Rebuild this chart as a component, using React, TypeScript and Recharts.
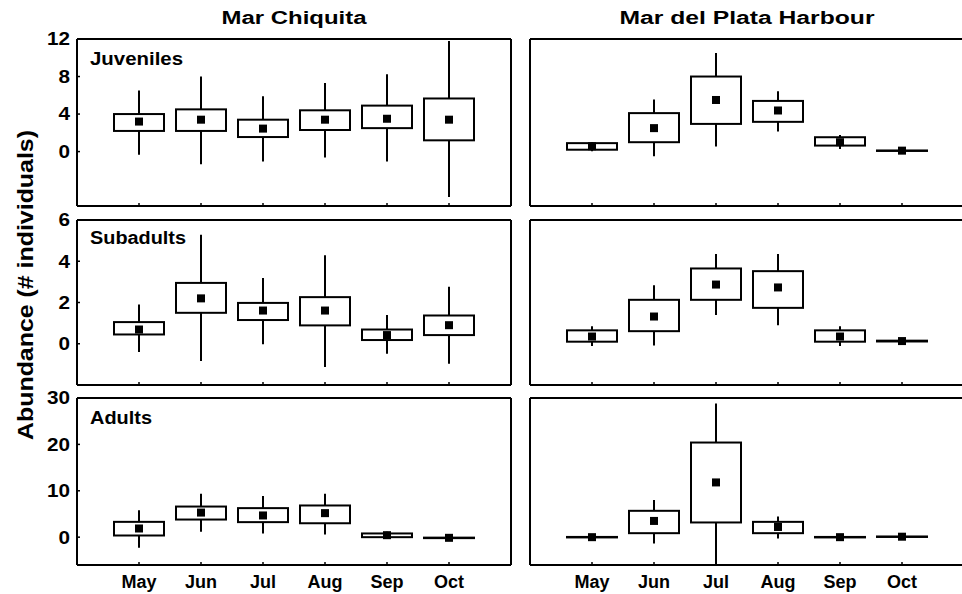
import { Bar, ComposedChart, Scatter, XAxis, YAxis } from "recharts";

const months = ["May", "Jun", "Jul", "Aug", "Sep", "Oct"];

// per month: [lower whisker, box bottom, mean, box top, upper whisker]
type Stat = [number, number, number, number, number];

const chiquitaJuveniles: Stat[] = [
  [-0.35, 2.2, 3.2, 4.0, 6.5],
  [-1.35, 2.2, 3.4, 4.5, 8.0],
  [-1.07, 1.55, 2.45, 3.4, 5.9],
  [-0.64, 2.3, 3.4, 4.4, 7.3],
  [-1.07, 2.5, 3.5, 4.9, 8.25],
  [-4.84, 1.2, 3.4, 5.66, 11.8],
];
const harbourJuveniles: Stat[] = [
  [0.04, 0.2, 0.57, 0.9, 1.0],
  [-0.5, 1.0, 2.5, 4.1, 5.55],
  [0.53, 2.95, 5.5, 8.0, 10.5],
  [2.13, 3.17, 4.38, 5.4, 6.44],
  [0.28, 0.64, 1.0, 1.53, 1.78],
  [0.05, 0.08, 0.1, 0.12, 0.15],
];
const chiquitaSubadults: Stat[] = [
  [-0.4, 0.45, 0.69, 1.05, 1.9],
  [-0.84, 1.5, 2.2, 2.95, 5.29],
  [-0.03, 1.15, 1.61, 1.98, 3.19],
  [-1.13, 0.89, 1.61, 2.26, 4.29],
  [-0.48, 0.18, 0.42, 0.69, 1.39],
  [-0.97, 0.42, 0.9, 1.37, 2.76],
];
const harbourSubadults: Stat[] = [
  [-0.11, 0.1, 0.35, 0.65, 0.85],
  [-0.08, 0.61, 1.32, 2.13, 2.84],
  [1.39, 2.13, 2.87, 3.65, 4.35],
  [0.9, 1.74, 2.73, 3.52, 4.35],
  [-0.11, 0.1, 0.35, 0.65, 0.85],
  [0.08, 0.11, 0.13, 0.15, 0.18],
];
const chiquitaAdults: Stat[] = [
  [-2.3, 0.36, 1.87, 3.3, 5.8],
  [1.15, 3.8, 5.3, 6.6, 9.35],
  [0.8, 3.24, 4.68, 6.26, 8.85],
  [0.58, 3.0, 5.18, 6.83, 9.35],
  [-0.36, 0.0, 0.43, 0.8, 1.15],
  [-0.25, -0.18, -0.14, -0.1, -0.05],
];
const harbourAdults: Stat[] = [
  [-0.1, -0.05, 0, 0.05, 0.1],
  [-1.37, 0.86, 3.5, 5.68, 7.99],
  [-5.8, 3.17, 11.8, 20.4, 28.8],
  [-0.29, 0.86, 2.2, 3.3, 4.46],
  [-0.1, -0.05, 0, 0.05, 0.1],
  [0.0, 0.05, 0.1, 0.15, 0.2],
];

const juvenileTicks = [0, 4, 8, 12];
const subadultTicks = [0, 2, 4, 6];
const adultTicks = [0, 10, 20, 30];

const FONT = '"Liberation Sans", Arial, sans-serif';
const PLOT_W = 434;
const TOP_PAD = 11; // chart margin + top axis height

function toRows(stats: Stat[]) {
  return months.map((month, i) => {
    const [lo, q1, mean, q3, hi] = stats[i];
    return { month, range: [lo, hi], q1, mean, q3 };
  });
}

// whisker comes from the range bar; box edges placed on the same pixel scale
function BoxShape(props: any) {
  const { x, y, width, height, payload } = props;
  const [lo, hi] = payload.range;
  const py = (v: number) => y + (height * (hi - v)) / (hi - lo);
  const cx = x + width / 2;
  const top = py(payload.q3);
  const bottom = py(payload.q1);
  return (
    <g>
      <line x1={cx} x2={cx} y1={y} y2={y + height} stroke="#000" strokeWidth={2} />
      <rect
        x={x}
        y={top}
        width={width}
        height={Math.max(bottom - top, 0.5)}
        fill="#fff"
        stroke="#000"
        strokeWidth={2}
      />
    </g>
  );
}

function MeanMarker(props: any) {
  return <rect x={props.cx - 4} y={props.cy - 4} width={8} height={8} fill="#000" />;
}

// slightly wide bold numerals like the original figure
function YTick(props: any) {
  const { x, y, payload } = props;
  return (
    <g transform={`translate(${x},${y}) scale(1.15,1)`}>
      <text x={0} y={0} dy="0.355em" textAnchor="end" fontSize={18} fontWeight={700} fill="#000" fontFamily={FONT}>
        {payload.value}
      </text>
    </g>
  );
}

const line = { stroke: "#000", strokeWidth: 2 };
const tickFont = { fill: "#000", fontSize: 18, fontWeight: 700, fontFamily: FONT };

function Panel(props: {
  stats: Stat[];
  domain: [number, number];
  ticks: number[];
  plotLeft: number;
  plotTop: number;
  plotHeight: number;
  showY: boolean;
  showMonths: boolean;
}) {
  const { stats, domain, ticks, plotLeft, plotTop, plotHeight, showY, showMonths } = props;
  const yw = showY ? 77 : 10;
  const xh = showMonths ? 28 : 2;
  const w = yw + PLOT_W + 3;
  const h = TOP_PAD + plotHeight + xh + 2;
  return (
    <div style={{ position: "absolute", left: plotLeft - yw, top: plotTop - TOP_PAD, width: w, height: h }}>
      <ComposedChart
        width={w}
        height={h}
        data={toRows(stats)}
        margin={{ top: TOP_PAD - 1, right: 2, bottom: 2, left: 0 }}
      >
        <XAxis
          dataKey="month"
          padding={{ left: 31, right: 31 }}
          height={xh}
          stroke="#000"
          axisLine={line}
          tickLine={{ stroke: "#000", strokeWidth: 1.5 }}
          tickSize={-3}
          tickMargin={13}
          interval={0}
          tick={showMonths ? tickFont : () => <g />}
        />
        <XAxis
          xAxisId="top"
          orientation="top"
          dataKey="month"
          padding={{ left: 31, right: 31 }}
          height={1}
          stroke="#000"
          axisLine={line}
          tick={false}
          tickLine={false}
        />
        <YAxis
          type="number"
          domain={domain}
          ticks={ticks}
          allowDataOverflow
          interval={0}
          width={yw}
          stroke="#000"
          axisLine={line}
          tickLine={showY ? { stroke: "#000", strokeWidth: 1.5 } : false}
          tickSize={-3}
          tickMargin={10}
          tick={showY ? YTick : false}
        />
        {/* right border; the right-hand column runs off the edge of the figure */}
        <YAxis
          yAxisId="right"
          orientation="right"
          type="number"
          domain={domain}
          allowDataOverflow
          width={1}
          stroke="#000"
          axisLine={showY ? line : false}
          tick={false}
          tickLine={false}
        />
        <Bar dataKey="range" barSize={50} shape={BoxShape} isAnimationActive={false} />
        <Scatter dataKey="mean" shape={MeanMarker} isAnimationActive={false} />
      </ComposedChart>
    </div>
  );
}

const rowTops = [39, 220, 398];
const rowHeights = [167, 165, 167];
const colLefts = [77, 530];

export default function App() {
  return (
    <div
      style={{
        position: "absolute",
        left: 0,
        top: 0,
        width: 962,
        height: 594,
        overflow: "hidden",
        background: "#fff",
        fontFamily: FONT,
      }}
    >
      <svg
        width={962}
        height={594}
        style={{ position: "absolute", left: 0, top: 0, pointerEvents: "none" }}
        fontFamily={FONT}
        fontWeight={700}
        fill="#000"
      >
        <text x={294} y={24} fontSize={18} textAnchor="middle" textLength={145} lengthAdjust="spacingAndGlyphs">
          Mar Chiquita
        </text>
        <text x={747} y={24} fontSize={18} textAnchor="middle" textLength={255} lengthAdjust="spacingAndGlyphs">
          Mar del Plata Harbour
        </text>
        <text
          transform="translate(33,285) rotate(-90)"
          fontSize={22}
          textAnchor="middle"
          textLength={310}
          lengthAdjust="spacingAndGlyphs"
        >
          Abundance (# individuals)
        </text>
      </svg>
      <Panel stats={chiquitaJuveniles} domain={[-5.8, 12]} ticks={juvenileTicks} plotLeft={colLefts[0]} plotTop={rowTops[0]} plotHeight={rowHeights[0]} showY showMonths={false} />
      <Panel stats={harbourJuveniles} domain={[-5.8, 12]} ticks={juvenileTicks} plotLeft={colLefts[1]} plotTop={rowTops[0]} plotHeight={rowHeights[0]} showY={false} showMonths={false} />
      <Panel stats={chiquitaSubadults} domain={[-2, 6]} ticks={subadultTicks} plotLeft={colLefts[0]} plotTop={rowTops[1]} plotHeight={rowHeights[1]} showY showMonths={false} />
      <Panel stats={harbourSubadults} domain={[-2, 6]} ticks={subadultTicks} plotLeft={colLefts[1]} plotTop={rowTops[1]} plotHeight={rowHeights[1]} showY={false} showMonths={false} />
      <Panel stats={chiquitaAdults} domain={[-6, 30]} ticks={adultTicks} plotLeft={colLefts[0]} plotTop={rowTops[2]} plotHeight={rowHeights[2]} showY showMonths />
      <Panel stats={harbourAdults} domain={[-6, 30]} ticks={adultTicks} plotLeft={colLefts[1]} plotTop={rowTops[2]} plotHeight={rowHeights[2]} showY={false} showMonths />
      <svg
        width={962}
        height={594}
        style={{ position: "absolute", left: 0, top: 0, pointerEvents: "none" }}
        fontFamily={FONT}
        fontWeight={700}
        fill="#000"
      >
        <text x={90} y={65} fontSize={18} textLength={93} lengthAdjust="spacingAndGlyphs">
          Juveniles
        </text>
        <text x={90} y={244} fontSize={18} textLength={96} lengthAdjust="spacingAndGlyphs">
          Subadults
        </text>
        <text x={90} y={424} fontSize={18} textLength={62} lengthAdjust="spacingAndGlyphs">
          Adults
        </text>
      </svg>
    </div>
  );
}
